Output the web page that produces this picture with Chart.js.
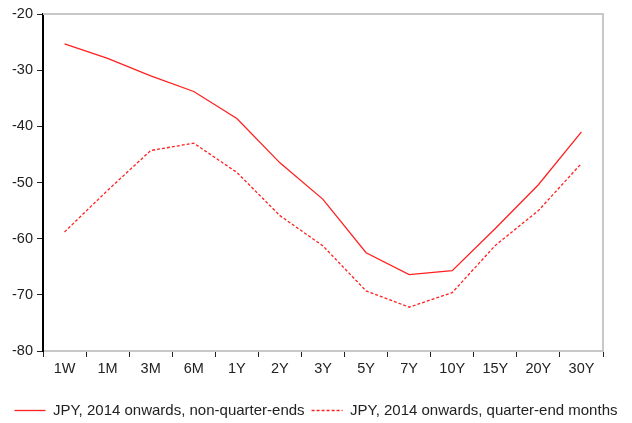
<!DOCTYPE html>
<html><head><meta charset="utf-8">
<script src="https://cdn.jsdelivr.net/npm/chart.js@4"></script>
<style>html,body{margin:0;padding:0;background:#fff}#wrap{width:632px;height:423px}</style>
</head><body><div id="wrap"><canvas id="c"></canvas></div>
<script>
const categories = ["1W","1M","3M","6M","1Y","2Y","3Y","5Y","7Y","10Y","15Y","20Y","30Y"];
const nonQuarterEnds = [-25.3,-27.9,-31.0,-33.8,-38.6,-46.5,-53.0,-62.5,-66.4,-65.7,-58.2,-50.4,-41.0];
const quarterEndMonths = [-58.8,-51.4,-44.3,-43.0,-48.2,-55.9,-61.3,-69.3,-72.2,-69.6,-61.2,-55.0,-46.6];
const yTicks = [-80,-70,-60,-50,-40,-30,-20];

const FONT = 'Liberation Sans, Arial, sans-serif';
const frame = {
  id:'frame',
  afterDraw(chart){
    const {ctx, chartArea:a} = chart;
    ctx.save();
    ctx.strokeStyle = '#c8c8c8'; ctx.lineWidth = 2;
    ctx.beginPath();
    ctx.moveTo(a.left, a.top); ctx.lineTo(a.right, a.top); ctx.lineTo(a.right, a.bottom);
    ctx.stroke();
    ctx.restore();
  }
};

new Chart(document.getElementById('c'), {
  type:'line',
  data:{
    labels: categories,
    datasets:[
      {label:'JPY, 2014 onwards, non-quarter-ends', data:nonQuarterEnds, borderColor:'#ff2020', borderWidth:1.3, pointRadius:0, tension:0},
      {label:'JPY, 2014 onwards, quarter-end months', data:quarterEndMonths, borderColor:'#ff2020', borderWidth:1.3, borderDash:[3,2], pointRadius:0, tension:0}
    ]
  },
  options:{
    responsive:true, maintainAspectRatio:false, animation:false,
    layout:{padding:{left:0,right:0,top:14,bottom:-5}},
    plugins:{
      tooltip:{enabled:false},
      legend:{
        position:'bottom',
        labels:{
          usePointStyle:true, pointStyle:'line', pointStyleWidth:31, boxHeight:10,
          color:'#222', font:{family:FONT, size:15}, padding:7,
          generateLabels(chart){
            return chart.data.datasets.map((ds,i)=>({
              text: ds.label, datasetIndex:i, strokeStyle: ds.borderColor, fillStyle: ds.borderColor,
              lineWidth: 1.3, lineDash: ds.borderDash || [], pointStyle:'line', fontColor:'#222', hidden:false
            }));
          }
        }
      }
    },
    scales:{
      x:{
        offset:true,
        grid:{display:true, drawOnChartArea:false, offset:true, color:'#222', tickLength:6, tickWidth:1},
        border:{display:true, color:'#c8c8c8', width:2},
        ticks:{color:'#222', font:{family:FONT, size:14.5}, padding:3, maxRotation:0, autoSkip:false},
        afterFit(s){ s.height = 45; }
      },
      y:{
        min:-80, max:-20,
        afterBuildTicks(s){ s.ticks = yTicks.map(v=>({value:v})); },
        grid:{display:true, drawOnChartArea:false, color:'#222', tickLength:6, tickWidth:1},
        border:{display:true, color:'#000', width:2},
        ticks:{color:'#222', font:{family:FONT, size:14.5}, padding:4},
        afterFit(s){ s.width = 43; }
      },
      yRight:{
        position:'right', display:true,
        grid:{display:false}, border:{display:false}, ticks:{display:false},
        afterFit(s){ s.width = 29; }
      }
    }
  },
  plugins:[frame]
});
</script></body></html>
